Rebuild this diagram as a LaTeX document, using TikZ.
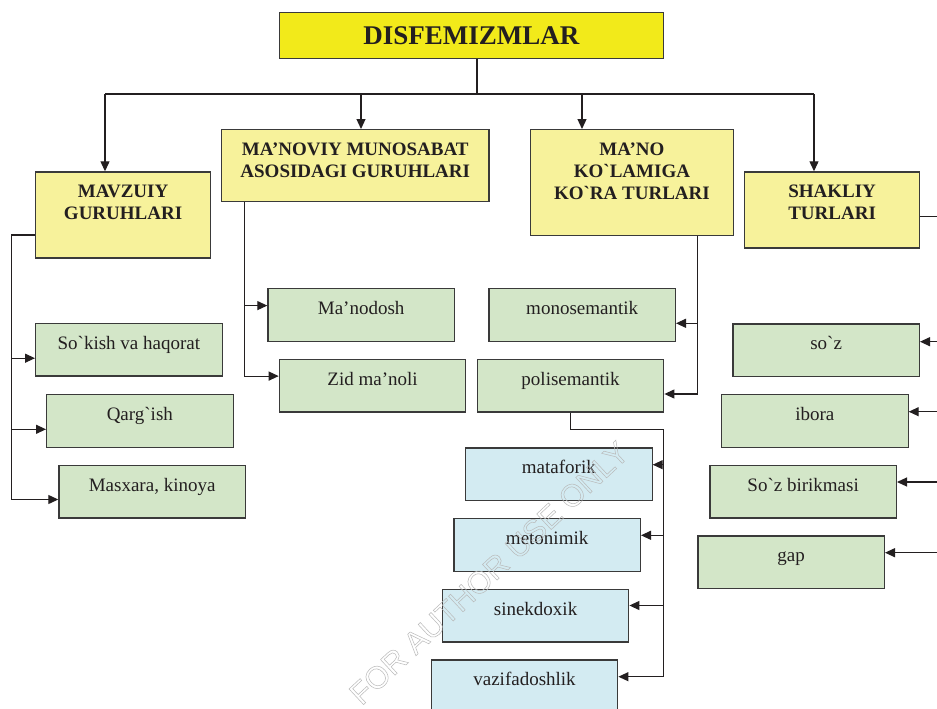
\documentclass[tikz,border=0pt]{standalone}
\usepackage{fontspec}
\setmainfont{Liberation Serif}[Ligatures=TeXOff]
\newfontfamily\wmfont{Liberation Sans}
\usetikzlibrary{arrows.meta,calc}
\definecolor{ttl}{HTML}{F2EA1A}
\definecolor{hdr}{HTML}{F7F29B}
\definecolor{grn}{HTML}{D3E6C8}
\definecolor{blu}{HTML}{D3EBF2}
\definecolor{bord}{HTML}{3A3A3A}
\definecolor{linec}{HTML}{231F20}
\definecolor{txt}{HTML}{231F20}
\newcommand\tl[1]{\begin{tabular}[t]{@{}c@{}}#1\end{tabular}}
\newcommand\gv{\char"60\relax}
\tikzset{
  bx/.style={draw=bord, line width=1.2pt, inner sep=0pt, anchor=north west,
    text height=26pt, text=txt, font=\fontsize{19}{22}\selectfont},
  ttlbox/.style={bx, fill=ttl, text height=32.6pt, text depth=14pt,
    font=\bfseries\fontsize{27}{30}\selectfont},
  hd/.style={bx, fill=hdr, font=\bfseries\fontsize{19}{22}\selectfont},
  gr/.style={bx, fill=grn, minimum width=186.5pt, text depth=26.6pt},
  bl/.style={bx, fill=blu, minimum width=186.5pt, text depth=26.6pt},
  ln/.style={draw=linec, line width=1.2pt},
  arr/.style={ln, -{Triangle[length=10pt,width=9pt]}},
}
\begin{document}
\begin{tikzpicture}[x=1pt,y=-1pt]
\useasboundingbox (0,0) rectangle (937,709);
\fill[white] (0,0) rectangle (937,709);

% boxes
\node[ttlbox, minimum width=383.7pt] (t) at (279,11.7) {DISFEMIZMLAR};
\node[hd, minimum width=175pt, text depth=60pt] (b1) at (35,171.3) {\tl{MAVZUIY\\GURUHLARI}};
\node[hd, minimum width=267.3pt, text depth=45.7pt] (b2) at (221,129) {\tl{MA’NOVIY MUNOSABAT\\ASOSIDAGI GURUHLARI}};
\node[hd, minimum width=202.7pt, text depth=80pt] (b3) at (530,129) {\tl{MA’NO\\KO\gv LAMIGA\\KO\gv RA TURLARI}};
\node[hd, minimum width=175pt, text depth=50pt] (b4) at (744,171.3) {\tl{SHAKLIY\\TURLARI}};

\node[gr] (s1) at (35,322.7) {So\gv kish va haqorat};
\node[gr] (s2) at (46,394) {Qarg\gv ish};
\node[gr] (s3) at (58.3,464.7) {Masxara, kinoya};
\node[gr] (m1) at (267.3,288) {Ma’nodosh};
\node[gr] (m2) at (278.7,358.7) {Zid ma’noli};
\node[gr] (k1) at (488.3,288) {monosemantik};
\node[gr] (k2) at (476.7,358.7) {polisemantik};
\node[gr] (r1) at (732.3,323.3) {so\gv z};
\node[gr] (r2) at (721,394) {ibora};
\node[gr] (r3) at (709.3,464.7) {So\gv z birikmasi};
\node[gr] (r4) at (697.3,535.3) {gap};
\node[bl] (p1) at (465,447.3) {mataforik};
\node[bl] (p2) at (453.3,518) {metonimik};
\node[bl] (p3) at (441.7,588.7) {sinekdoxik};
\node[bl] (p4) at (430.7,659.3) {vazifadoshlik};

% top tree
\coordinate (hub) at (477,94);
\coordinate (a1) at (105,94);
\coordinate (a2) at (361,94);
\coordinate (a3) at (582,94);
\coordinate (a4) at (814,94);
\draw[ln] (t.south -| hub) -- (hub);
\draw[ln] (a1) -- (a4);
\draw[arr] (a1) -- (a1 |- b1.north);
\draw[arr] (a2) -- (a2 |- b2.north);
\draw[arr] (a3) -- (a3 |- b3.north);
\draw[arr] (a4) -- (a4 |- b4.north);

% left column
\coordinate (l0) at (11.7,235);
\coordinate (e1) at ($(s1.north west)+(0,35.5)$);
\coordinate (e2) at ($(s2.north west)+(0,35.3)$);
\coordinate (e3) at ($(s3.north west)+(0,34.8)$);
\draw[ln] (b1.west |- l0) -- (l0) -- (l0 |- e3);
\draw[arr] (l0 |- e1) -- (e1);
\draw[arr] (l0 |- e2) -- (e2);
\draw[arr] (l0 |- e3) -- (e3);

% second column
\coordinate (v2) at (244.3,200);
\coordinate (f1) at ($(m1.north west)+(0,17.6)$);
\coordinate (f2) at ($(m2.north west)+(0,17.4)$);
\draw[ln] (v2 |- b2.south) -- (v2 |- f2);
\draw[arr] (v2 |- f1) -- (f1);
\draw[arr] (v2 |- f2) -- (f2);

% third column
\coordinate (v3) at (697.7,235);
\coordinate (g1) at ($(k1.north east)+(0,35.3)$);
\coordinate (g2) at ($(k2.north east)+(0,35.3)$);
\draw[ln] (v3 |- b3.south) -- (v3 |- g2);
\draw[arr] (v3 |- g1) -- (g1);
\draw[arr] (v3 |- g2) -- (g2);

% polisemantik subtypes
\coordinate (v4) at (663.3,429.3);
\coordinate (h1) at ($(p1.north east)+(0,17.4)$);
\coordinate (h2) at ($(p2.north east)+(0,17.3)$);
\coordinate (h3) at ($(p3.north east)+(0,16.8)$);
\coordinate (h4) at ($(p4.north east)+(0,17.4)$);
\draw[ln] (k2.south) |- (v4) -- (v4 |- h4);
\draw[arr] (v4 |- h1) -- (h1);
\draw[arr] (v4 |- h2) -- (h2);
\draw[arr] (v4 |- h3) -- (h3);
\draw[arr] (v4 |- h4) -- (h4);

% right column
\coordinate (w4) at (937,216.7);
\draw[ln] (w4 -| b4.east) -- (w4);
\coordinate (q1) at ($(r1.north east)+(0,18.4)$);
\coordinate (q2) at ($(r2.north east)+(0,17.7)$);
\coordinate (q3) at ($(r3.north east)+(0,17.3)$);
\coordinate (q4) at ($(r4.north east)+(0,17.4)$);
\coordinate (rx) at (938,300);
\draw[arr] (rx |- q1) -- (q1);
\draw[arr] (rx |- q2) -- (q2);
\draw[arr] (rx |- q3) -- (q3);
\draw[arr] (rx |- q4) -- (q4);

% watermark (outlined letters)
\node[font=\wmfont\fontsize{31}{31}\selectfont, text=gray!55, rotate=43, inner sep=0pt] (wm) at (489,573) {\special{pdf:code 1 Tr 0.5 w}FOR AUTHOR USE ONLY\special{pdf:code 0 Tr}};
\end{tikzpicture}
\end{document}
